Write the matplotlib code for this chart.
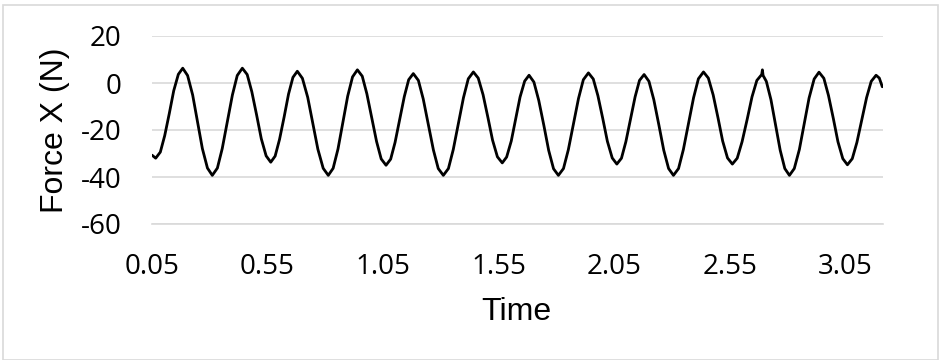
import matplotlib
matplotlib.use("Agg")
import matplotlib.pyplot as plt
from matplotlib.patches import Rectangle

plt.rcParams["axes.unicode_minus"] = False

# Force X (N) versus Time
time = [
    0.050, 0.066, 0.086, 0.105, 0.125, 0.144, 0.164,
    0.183, 0.204, 0.226, 0.247, 0.268, 0.290,
    0.311, 0.333, 0.354, 0.376, 0.398, 0.419,
    0.441, 0.462, 0.482, 0.503, 0.523, 0.544,
    0.564, 0.583, 0.602, 0.622, 0.641, 0.660,
    0.679, 0.701, 0.724, 0.746, 0.768, 0.791,
    0.813, 0.834, 0.855, 0.876, 0.897, 0.918,
    0.939, 0.960, 0.980, 1.001, 1.022, 1.042,
    1.063, 1.083, 1.102, 1.122, 1.142, 1.161,
    1.181, 1.203, 1.224, 1.246, 1.268, 1.289,
    1.311, 1.333, 1.354, 1.376, 1.398, 1.419,
    1.441, 1.462, 1.483, 1.504, 1.524, 1.545,
    1.566, 1.585, 1.605, 1.624, 1.643, 1.663,
    1.682, 1.703, 1.724, 1.746, 1.767, 1.788,
    1.809, 1.831, 1.852, 1.874, 1.896, 1.917,
    1.939, 1.960, 1.980, 2.001, 2.021, 2.042,
    2.062, 2.082, 2.101, 2.121, 2.141, 2.160,
    2.180, 2.201, 2.222, 2.244, 2.265, 2.286,
    2.307, 2.329, 2.350, 2.372, 2.394, 2.415,
    2.437, 2.458, 2.479, 2.500, 2.520, 2.541,
    2.562, 2.583, 2.604, 2.626, 2.647, 2.668,
    2.689, 2.692, 2.695, 2.709, 2.729, 2.749, 2.769, 2.789,
    2.809, 2.830, 2.852, 2.873, 2.894, 2.916,
    2.937, 2.958, 2.978, 2.999, 3.019, 3.040,
    3.060, 3.081, 3.101, 3.122, 3.143, 3.163,
    3.184, 3.198, 3.211,
]
force_x = [
    -30.7, -32.0, -29.4, -22.4, -12.9, -3.3, 3.7,
    6.3, 3.2, -5.1, -16.5, -27.9, -36.2,
    -39.3, -36.2, -27.9, -16.5, -5.1, 3.2,
    6.3, 3.6, -3.7, -13.7, -23.7, -31.0,
    -33.7, -31.1, -24.0, -14.4, -4.7, 2.4,
    5.0, 2.0, -6.1, -17.2, -28.2, -36.3,
    -39.3, -36.3, -28.1, -16.9, -5.6, 2.6,
    5.6, 2.9, -4.6, -14.7, -24.9, -32.3,
    -35.0, -32.4, -25.3, -15.5, -5.8, 1.4,
    4.0, 1.1, -6.8, -17.7, -28.5, -36.4,
    -39.3, -36.4, -28.3, -17.3, -6.3, 1.8,
    4.7, 2.1, -5.0, -14.7, -24.3, -31.4,
    -34.0, -31.5, -24.7, -15.4, -6.0, 0.8,
    3.3, 0.4, -7.4, -18.0, -28.7, -36.5,
    -39.3, -36.4, -28.4, -17.5, -6.6, 1.4,
    4.3, 1.7, -5.4, -15.1, -24.8, -31.9,
    -34.5, -32.0, -25.0, -15.5, -5.9, 1.1,
    3.6, 0.7, -7.1, -17.9, -28.6, -36.4,
    -39.3, -36.4, -28.3, -17.3, -6.3, 1.8,
    4.7, 2.1, -5.1, -14.9, -24.7, -31.9,
    -34.5, -32.0, -25.0, -15.5, -5.9, 1.1,
    3.6, 5.6, 3.2, 0.7, -7.1, -17.9, -28.6, -36.4,
    -39.3, -36.4, -28.3, -17.4, -6.4, 1.7,
    4.6, 2.0, -5.3, -15.1, -25.0, -32.2,
    -34.8, -32.2, -25.3, -15.8, -6.2, 0.7,
    3.3, 2.1, -1.6,
]
x_ticks = [0.05, 0.55, 1.05, 1.55, 2.05, 2.55, 3.05]
x_tick_labels = ["0.05", "0.55", "1.05", "1.55", "2.05", "2.55", "3.05"]
y_ticks = [-60, -40, -20, 0, 20]
y_tick_labels = ["-60", "-40", "-20", "0", "20"]
x_title = "Time"
y_title = "Force X (N)"

W, H = 939, 360
fig = plt.figure(figsize=(W / 100, H / 100), dpi=100)
fig.patch.set_facecolor("white")

# chart-area border
fig.patches.append(Rectangle((2.5 / W, 0.5 / H), (935.5) / W, (355) / H,
                             transform=fig.transFigure, fill=False,
                             edgecolor="#d9d9d9", linewidth=1.2, zorder=0))

ax = fig.add_axes([152 / W, 1 - 224 / H, (883 - 152) / W, (224 - 36) / H])
ax.plot(time, force_x, color="black", linewidth=2.0, solid_joinstyle="round",
        solid_capstyle="round", zorder=3)

ax.set_xlim(0.05, 3.214)
ax.set_ylim(-60, 20)
ax.set_yticks(y_ticks)
ax.set_yticklabels(y_tick_labels)
ax.set_xticks(x_ticks)
ax.set_xticklabels(x_tick_labels)
ax.grid(axis="y", color="#d9d9d9", linewidth=1.2, zorder=0)
ax.grid(axis="x", visible=False)
for s in ["top", "right", "left"]:
    ax.spines[s].set_visible(False)
ax.spines["bottom"].set_color("#d9d9d9")
ax.spines["bottom"].set_linewidth(1.2)

tick_family = ["Open Sans", "DejaVu Sans"]
tick_size = 20
ax.tick_params(axis="both", length=0, colors="black")
ax.tick_params(axis="y", pad=22)
ax.tick_params(axis="x", pad=21)
for lab in ax.get_xticklabels() + ax.get_yticklabels():
    lab.set_fontfamily(tick_family)
    lab.set_fontsize(tick_size)

fig.text(516.7 / W, 1 - 312 / H, x_title, ha="center", va="center",
         fontsize=23, family=["Liberation Sans", "DejaVu Sans"])
fig.text(55 / W, 1 - 130 / H, y_title, ha="center", va="center", rotation=90,
         fontsize=23, family=["Liberation Sans", "DejaVu Sans"])

fig.savefig("out.png", dpi=100, facecolor="white")
